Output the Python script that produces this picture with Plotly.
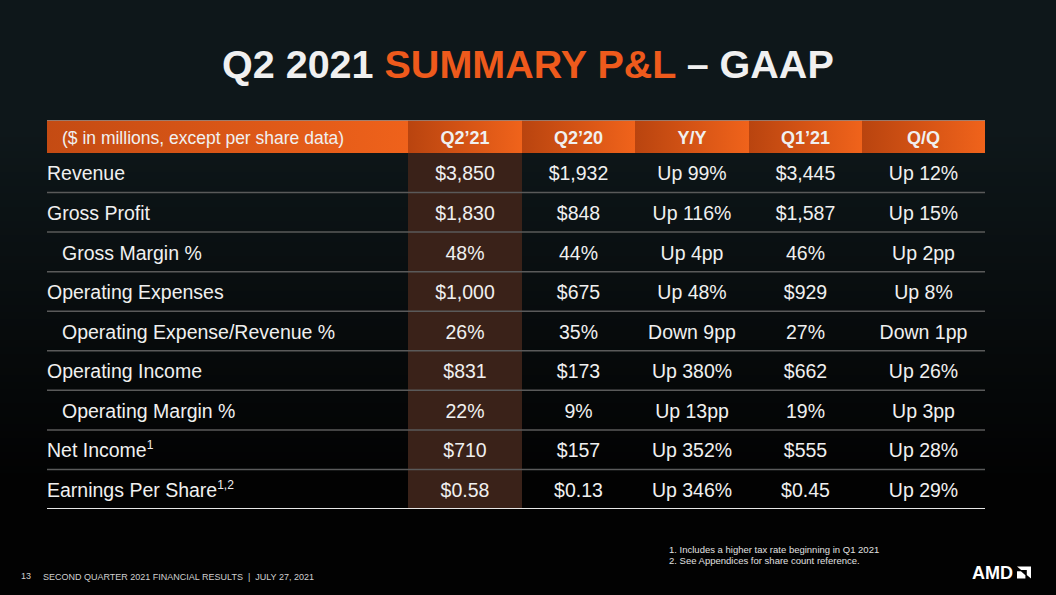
import plotly.graph_objects as go

# ---------------- data ----------------
headers = ["($ in millions, except per share data)", "Q2’21", "Q2’20", "Y/Y", "Q1’21", "Q/Q"]
sup_style = "<sup><span style='font-size:12px'>%s</span></sup>"
row_labels = ["Revenue", "Gross Profit", "Gross Margin %", "Operating Expenses",
              "Operating Expense/Revenue %", "Operating Income", "Operating Margin %",
              "Net Income" + sup_style % "1", "Earnings Per Share" + sup_style % "1,2"]
indented = [False, False, True, False, True, False, True, False, False]
q2_21 = ["$3,850", "$1,830", "48%", "$1,000", "26%", "$831", "22%", "$710", "$0.58"]
q2_20 = ["$1,932", "$848", "44%", "$675", "35%", "$173", "9%", "$157", "$0.13"]
yoy = ["Up 99%", "Up 116%", "Up 4pp", "Up 48%", "Down 9pp", "Up 380%", "Up 13pp", "Up 352%", "Up 346%"]
q1_21 = ["$3,445", "$1,587", "46%", "$929", "27%", "$662", "19%", "$555", "$0.45"]
qoq = ["Up 12%", "Up 15%", "Up 2pp", "Up 8%", "Down 1pp", "Up 26%", "Up 3pp", "Up 28%", "Up 29%"]
value_columns = [q2_21, q2_20, yoy, q1_21, qoq]
highlight_col = 1  # Q2'21

title_white_1 = "Q2 2021 "
title_orange = "SUMMARY P&L"
title_white_2 = " – GAAP"
footnotes = ["1. Includes a higher tax rate beginning in Q1 2021",
             "2. See Appendices for share count reference."]
footer_page = "13"
footer_text = "SECOND QUARTER 2021 FINANCIAL RESULTS  |  JULY 27, 2021"

# ---------------- style ----------------
W, H = 1056, 595
FONT = "Liberation Sans, Arial, Helvetica, sans-serif"
WHITE = "#f0f0f0"
ORANGE = "#ee5a1c"
col_widths = [361, 114, 113, 114, 113, 123]
header_rows = 33 / 39.6          # header height in row units
pad_left, pad_indent = 0, 15
text_dy = 0.07                   # small downward nudge of text within a row

edges = [0]
for w in col_widths:
    edges.append(edges[-1] + w)
centers = [(edges[i] + edges[i + 1]) / 2 for i in range(len(col_widths))]
n = len(row_labels)
rows = list(range(n))
text_rows = [r + text_dy for r in rows]
y_top = -0.5 - header_rows
y_head = (-0.5 + y_top) / 2 + text_dy

fig = go.Figure()

# background gradient (paper bands)
shapes = []
top_c, bot_c = (14, 23, 26), (2, 2, 2)
y0p, y1p = 130, 480
nb = 50
shapes.append(dict(type="rect", xref="paper", yref="paper", x0=0, x1=1, y0=0, y1=1,
                   fillcolor="rgb(2,2,2)", line_width=0, layer="below"))
shapes.append(dict(type="rect", xref="paper", yref="paper", x0=0, x1=1,
                   y0=1 - y0p / H, y1=1, fillcolor="rgb(%d,%d,%d)" % top_c,
                   line_width=0, layer="below"))
for k in range(nb):
    t = (k + 0.5) / nb
    c = tuple(round(top_c[j] + (bot_c[j] - top_c[j]) * t) for j in range(3))
    ya = y0p + (y1p - y0p) * k / nb
    yb = y0p + (y1p - y0p) * (k + 1) / nb
    shapes.append(dict(type="rect", xref="paper", yref="paper", x0=0, x1=1,
                       y0=1 - yb / H, y1=1 - ya / H, fillcolor="rgb(%d,%d,%d)" % c,
                       line_width=0, layer="below"))

# highlighted column
shapes.append(dict(type="rect", xref="x", yref="y", x0=edges[highlight_col], x1=edges[highlight_col + 1],
                   y0=-0.5, y1=n - 0.5, fillcolor="#3a2219", line_width=0, layer="below"))

# header cells with gradient
for i in range(len(headers)):
    scale = [[0, "#c44b13"], [1, "#ef621b"]] if i == 0 else [[0, "#b9440f"], [1, "#f0631b"]]
    fig.add_trace(go.Scatter(
        x=[edges[i], edges[i + 1], edges[i + 1], edges[i], edges[i]],
        y=[y_top, y_top, -0.5, -0.5, y_top],
        mode="lines", line=dict(width=0), fill="toself",
        fillgradient=dict(type="horizontal", colorscale=scale),
        hoverinfo="skip", showlegend=False))

# header top line
shapes.append(dict(type="line", xref="x", yref="y", x0=edges[0], x1=edges[-1], y0=y_top, y1=y_top,
                   line=dict(color="#8a8a8a", width=1.5)))
# row separators
for r in rows:
    last = r == n - 1
    shapes.append(dict(type="line", xref="x", yref="y", x0=edges[0], x1=edges[-1],
                       y0=r + 0.5, y1=r + 0.5,
                       line=dict(color="#e6e6e6" if last else "#5a5a5a", width=2 if last else 1.5)))

# header text
fig.add_trace(go.Scatter(x=[pad_indent], y=[y_head], text=[headers[0]], mode="text",
                         textposition="middle right",
                         textfont=dict(family=FONT, size=17.5, color=WHITE),
                         hoverinfo="skip", showlegend=False))
fig.add_trace(go.Scatter(x=centers[1:], y=[y_head] * (len(headers) - 1),
                         text=["<b>%s</b>" % h for h in headers[1:]], mode="text",
                         textposition="middle center",
                         textfont=dict(family=FONT, size=18, color=WHITE),
                         hoverinfo="skip", showlegend=False))

# row labels
fig.add_trace(go.Scatter(x=[pad_indent if ind else pad_left for ind in indented], y=text_rows,
                         text=row_labels, mode="text", textposition="middle right",
                         textfont=dict(family=FONT, size=19.5, color=WHITE),
                         hoverinfo="skip", showlegend=False))
# values
for ci, col in enumerate(value_columns):
    fig.add_trace(go.Scatter(x=[centers[ci + 1]] * n, y=text_rows, text=col, mode="text",
                             textposition="middle center",
                             textfont=dict(family=FONT, size=19.5, color=WHITE),
                             hoverinfo="skip", showlegend=False))

annotations = [
    dict(xref="paper", yref="paper", x=0.5, y=1 - 64 / H, xanchor="center", yanchor="middle",
         text="<b>%s<span style='color:%s'>%s</span>%s</b>" % (title_white_1, ORANGE, title_orange, title_white_2),
         font=dict(family=FONT, size=39.5, color=WHITE), showarrow=False),
    dict(xref="paper", yref="paper", x=667 / W, y=1 - 549 / H, xanchor="left", yanchor="middle",
         text=footnotes[0], font=dict(family=FONT, size=9.5, color="#e0e0e0"), showarrow=False),
    dict(xref="paper", yref="paper", x=667 / W, y=1 - 560 / H, xanchor="left", yanchor="middle",
         text=footnotes[1], font=dict(family=FONT, size=9.5, color="#e0e0e0"), showarrow=False),
    dict(xref="paper", yref="paper", x=19 / W, y=1 - 576 / H, xanchor="left", yanchor="middle",
         text=footer_page, font=dict(family=FONT, size=9, color="#d0d0d0"), showarrow=False),
    dict(xref="paper", yref="paper", x=41 / W, y=1 - 577 / H, xanchor="left", yanchor="middle",
         text=footer_text, font=dict(family=FONT, size=9, color="#d0d0d0"), showarrow=False),
    dict(xref="paper", yref="paper", x=1015 / W, y=1 - 572.5 / H, xanchor="right", yanchor="middle",
         text="<b>AMD</b>", font=dict(family=FONT, size=18, color="#ffffff"), showarrow=False),
]

# AMD arrow logo (paper coords)
bx0, bx1, by0, by1 = 1017, 1031, 566.5, 578.5
def pt(u, v):
    return "%f,%f" % ((bx0 + (bx1 - bx0) * u) / W, 1 - (by1 - (by1 - by0) * v) / H)
big = [(0, 1), (1, 1), (1, 0), (0.7, 0.3), (0.7, 0.7), (0.3, 0.7)]
small = [(0, 0), (0, 0.6), (0.28, 0.6), (0.6, 0.28), (0.6, 0)]
for poly in (big, small):
    path = "M" + " L".join(pt(u, v) for u, v in poly) + " Z"
    shapes.append(dict(type="path", xref="paper", yref="paper", path=path,
                       fillcolor="#ffffff", line_width=0))

fig.update_layout(
    width=W, height=H, margin=dict(l=0, r=0, t=0, b=0),
    paper_bgcolor="#020202", plot_bgcolor="rgba(0,0,0,0)",
    shapes=shapes, annotations=annotations, showlegend=False,
    xaxis=dict(domain=[47 / W, 985 / W], range=[0, edges[-1]], visible=False, fixedrange=True),
    yaxis=dict(domain=[1 - 509 / H, 1 - 120 / H], range=[n - 0.5, y_top], visible=False, fixedrange=True),
)

fig.write_html("out.html", config={"displayModeBar": False},
               post_script="document.body.style.margin='0';document.body.style.padding='0';"
                           "document.body.style.background='#020202';")
